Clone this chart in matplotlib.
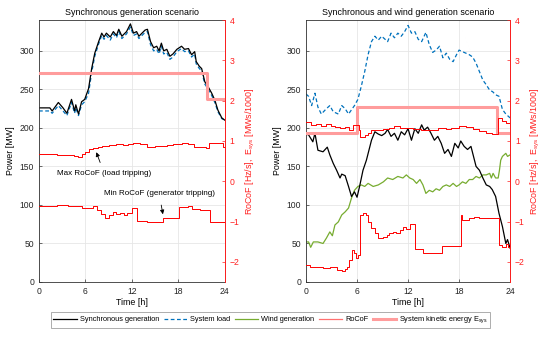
import matplotlib
matplotlib.use("Agg")
import matplotlib.pyplot as plt
from matplotlib.lines import Line2D

plt.rcParams['font.family'] = ['Liberation Sans', 'DejaVu Sans']
plt.rcParams['mathtext.default'] = 'regular'

# ---------------- Left panel: synchronous generation ----------------
t_sync_L = [0,1.4,1.7,2.5,3.1,3.6,4.2,4.6,4.75,5.1,5.5,5.9,6.4,6.8,7.2,7.7,8.1,8.4,8.7,9.2,
            9.6,10.0,10.3,10.7,11.3,11.8,12.2,12.6,12.9,13.2,13.7,14.0,14.4,14.8,15.2,15.5,15.8,16.1,16.5,16.9,
            17.3,17.8,18.4,18.8,19.3,19.7,20.1,20.3,20.7,21.0,21.4,21.8,22.3,22.7,23.1,23.6,24]
sync_L = [226,226,222,233,226,219,237,222,230,218,234,237,251,277,297,312,323,318,323,318,
          325,320,328,319,325,335,323,325,319,322,327,328,312,304,306,300,310,300,302,293,
          296,302,306,302,303,295,299,286,280,277,260,254,245,236,223,213,210]
load_L = [222,222,219,229,222,216,233,219,226,216,230,234,245,272,293,309,320,315,320,314,
          322,317,325,316,322,331,320,322,316,319,324,325,308,300,302,296,306,296,298,289,
          292,299,303,299,300,292,296,283,277,274,257,251,242,233,221,212,210]

t_rmax_L = [0,2.3,3.0,3.8,4.5,5.0,5.5,6.0,6.5,7.0,7.6,8.1,9.0,10.0,10.8,11.5,12.2,13.0,13.9,15.0,
            16.5,17.3,18.4,19.2,20.0,20.8,21.6,22.0,23.8,24]
rmax_L = [0.67,0.66,0.64,0.66,0.63,0.60,0.68,0.73,0.80,0.83,0.86,0.88,0.90,0.92,0.90,0.93,0.94,0.92,0.86,0.87,
          0.90,0.92,0.95,0.92,0.86,0.85,0.83,0.94,0.86,0.86]
t_rmin_L = [0,2.3,3.8,5.5,7.0,7.5,8.0,8.5,9.0,9.6,10.0,10.5,11.0,11.3,12.0,12.7,13.9,16.0,18.1,19.3,
            19.7,20.8,22.1,24]
rmin_L = [-0.61,-0.59,-0.61,-0.67,-0.62,-0.72,-0.82,-0.92,-0.85,-0.76,-0.81,-0.78,-0.83,-0.80,-0.67,-0.98,-1.02,-0.92,-0.64,-0.62,
          -0.70,-0.72,-1.02,-1.04]
t_ek_L = [0,21.7,24]
ek_L = [2.68,2.04,2.04]

# ---------------- Right panel: synchronous + wind ----------------
t_sync_R = [0,0.3,0.8,1.05,1.4,2.0,2.5,2.8,3.2,3.6,4.0,4.2,4.6,5.0,5.35,5.7,6.0,6.3,6.7,7.1,
            7.7,8.1,8.5,8.9,9.3,9.6,10.0,10.4,10.8,11.2,11.6,12.0,12.4,12.8,13.2,13.6,13.9,14.3,14.7,15.1,
            15.5,15.9,16.3,16.7,17.1,17.5,17.9,18.2,18.6,19.0,19.4,19.7,20.0,20.4,20.8,21.2,21.6,21.9,22.3,22.7,
            23.1,23.5,23.7,24]
sync_R = [192,191,182,193,171,169,175,165,154,145,135,140,138,124,111,117,110,124,145,158,
          184,195,192,190,193,198,189,193,184,195,191,199,184,199,193,204,197,201,193,184,
          189,180,167,172,163,180,174,183,176,172,176,163,150,145,135,126,124,120,111,89,
          72,50,55,44]
t_wind_R = [0,0.3,0.55,0.86,1.4,2.0,2.4,2.8,3.1,3.4,3.8,4.2,4.6,5.0,5.35,5.7,6.1,6.5,6.9,7.3,
            7.9,8.5,9.1,9.6,10.2,10.8,11.4,11.8,12.2,12.6,13.0,13.4,13.75,14.1,14.5,14.9,15.3,15.7,16.1,16.5,
            16.9,17.3,17.7,18.0,18.4,18.8,19.2,19.6,20.0,20.4,20.8,21.2,21.6,21.8,22.0,22.3,22.6,22.75,22.9,23.1,
            23.5,23.7,24]
wind_R = [52,52,45,52,52,50,57,65,60,74,78,87,91,96,109,119,124,126,124,128,
          124,126,130,135,133,137,135,139,135,133,128,133,126,115,119,117,121,119,124,126,
          124,128,124,126,130,128,133,133,137,135,139,139,141,135,141,135,135,145,158,163,
          167,163,165]
t_load_R = [0,0.3,0.66,1.05,1.4,1.8,2.4,2.8,3.2,3.8,4.2,4.6,5.0,5.7,6.1,6.5,6.9,7.3,7.7,8.1,
            8.5,8.9,9.3,9.6,10.0,10.4,10.8,11.2,11.6,12.0,12.4,12.8,13.2,13.6,14.1,14.5,14.9,15.3,15.7,16.1,
            16.5,16.9,17.3,17.7,18.0,18.4,18.8,19.2,19.6,20.0,20.4,20.8,21.2,21.6,21.95,22.3,22.7,23.1,23.5,23.9,24]
load_R = [244,241,229,245,227,218,225,229,221,218,229,225,218,229,237,254,273,295,312,319,
          314,319,315,312,323,317,323,319,325,333,323,325,315,312,324,308,298,301,306,291,
          297,289,286,295,301,299,297,295,292,284,273,262,256,249,247,243,241,224,218,214,213]
t_rmax_R = [0,0.6,1.2,1.8,2.4,2.9,3.4,4.0,4.6,5.1,5.5,6.2,6.4,6.9,7.3,7.7,8.3,9.0,9.8,10.4,
            11.0,12.0,12.6,13.5,14.5,15.5,16.5,17.1,18.0,18.8,19.6,20.4,21.2,21.9,22.6,23.0,23.5,24]
rmax_R = [1.48,1.40,1.43,1.38,1.41,1.37,1.34,1.32,1.35,1.27,1.39,1.27,1.10,1.15,1.20,1.26,1.28,1.30,1.31,1.37,
          1.32,1.33,1.29,1.27,1.28,1.31,1.29,1.32,1.37,1.34,1.30,1.24,1.20,1.17,1.56,1.50,1.45,1.44]
t_rmin_R = [0,0.5,1.0,2.0,2.8,3.6,4.2,4.6,4.85,5.1,5.35,5.6,5.9,6.1,6.4,6.7,7.1,7.3,7.7,8.1,
            8.5,9.1,9.5,9.8,10.2,10.6,11.0,11.4,11.8,12.2,12.8,13.75,16.0,18.2,18.4,19.2,19.8,20.4,21.2,22.6,
            22.7,23.1,23.5,23.8,24]
rmin_R = [-2.08,-2.12,-2.12,-2.16,-2.14,-2.2,-2.22,-2.18,-2.14,-1.96,-1.71,-1.79,-1.91,-1.83,-0.84,-0.80,-0.84,-1.0,-1.17,-1.29,
          -1.42,-1.38,-1.34,-1.29,-1.25,-1.29,-1.21,-1.13,-1.18,-1.05,-1.69,-1.77,-1.61,-0.84,-0.96,-0.92,-0.88,-0.92,-0.90,-0.92,
          -1.58,-1.62,-1.55,-1.62,-1.55]
t_ek_R = [0,6.05,22.5,24]
ek_R = [1.2,1.84,1.2,1.2]

titles = ["Synchronous generation scenario", "Synchronous and wind generation scenario"]
x_ticks = [0, 6, 12, 18, 24]
power_ticks = [0, 50, 100, 150, 200, 250, 300]
rocof_ticks = [-2, -1, 0, 1, 2, 3, 4]

C_BLACK = 'black'
C_BLUE = '#0072BD'
C_GREEN = '#77AC30'
C_RED = '#ff0000'
C_PINK = '#ff9c9c'
RED_AX = '#ff2020'
FS_TICK = 6.2
FS_LAB = 6.4

fig = plt.figure(figsize=(5.5, 3.38), dpi=100)
axL = fig.add_axes([0.0709, 0.1657, 0.338, 0.775])
axR = fig.add_axes([0.5564, 0.1657, 0.371, 0.775])

def setup(ax, title):
    ax.set_xlim(0, 24)
    ax.set_ylim(0, 340)
    ax.set_xticks(x_ticks)
    ax.set_yticks(power_ticks)
    ax.grid(True, color='#e6e6e6', linewidth=0.6)
    ax.set_axisbelow(True)
    ax.tick_params(direction='in', labelsize=FS_TICK, length=2.5, width=0.5,
                   color='#333333', labelcolor='#262626')
    ax.set_xlabel('Time [h]', fontsize=FS_LAB, labelpad=1.5)
    ax.set_ylabel('Power [MW]', fontsize=FS_LAB, labelpad=3)
    ax.set_title(title, fontsize=FS_LAB, pad=3.5)
    for s in ax.spines.values():
        s.set_linewidth(0.6)
        s.set_color('#333333')
    ax2 = ax.twinx()
    ax2.set_ylim(-2.5, 4)
    ax2.set_yticks(rocof_ticks)
    ax2.tick_params(direction='in', labelsize=FS_TICK, length=2.5, width=0.5, colors=RED_AX)
    ax2.spines['right'].set_color(RED_AX)
    ax2.spines['right'].set_linewidth(0.7)
    for k in ['left', 'top', 'bottom']:
        ax2.spines[k].set_visible(False)
    ax2.set_ylabel('RoCoF [Hz/s],  E$_{sys}$ [MWs/1000]', fontsize=FS_LAB, color=RED_AX, labelpad=3)
    return ax2

axL2 = setup(axL, titles[0])
axR2 = setup(axR, titles[1])

# Left panel
axL.plot(t_sync_L, load_L, color=C_BLUE, linestyle=(0, (3, 2)), linewidth=0.9)
axL.plot(t_sync_L, sync_L, color=C_BLACK, linewidth=0.9)
axL2.step(t_ek_L, ek_L, where='post', color=C_PINK, linewidth=2.2)
axL2.step(t_rmax_L, rmax_L, where='post', color=C_RED, linewidth=0.7)
axL2.step(t_rmin_L, rmin_L, where='post', color=C_RED, linewidth=0.7)

axL2.annotate('Max RoCoF (load tripping)', xy=(7.4, 0.72), xytext=(8.45, 0.18),
              fontsize=5.8, ha='center', va='center',
              arrowprops=dict(arrowstyle='-|>', color='black', lw=0.6, mutation_scale=6,
                              shrinkA=4, shrinkB=0))
axL2.annotate('Min RoCoF (generator tripping)', xy=(16.0, -0.82), xytext=(15.5, -0.30),
              fontsize=5.8, ha='center', va='center',
              arrowprops=dict(arrowstyle='-|>', color='black', lw=0.6, mutation_scale=6,
                              shrinkA=4, shrinkB=0))

# Right panel
axR.plot(t_load_R, load_R, color=C_BLUE, linestyle=(0, (3, 2)), linewidth=0.9)
axR.plot(t_wind_R, wind_R, color=C_GREEN, linewidth=0.9)
axR.plot(t_sync_R, sync_R, color=C_BLACK, linewidth=0.9)
axR2.step(t_ek_R, ek_R, where='post', color=C_PINK, linewidth=2.2)
axR2.step(t_rmax_R, rmax_R, where='post', color=C_RED, linewidth=0.7)
axR2.step(t_rmin_R, rmin_R, where='post', color=C_RED, linewidth=0.7)

handles = [Line2D([], [], color=C_BLACK, lw=0.9),
           Line2D([], [], color=C_BLUE, lw=0.9, linestyle=(0, (3, 2))),
           Line2D([], [], color=C_GREEN, lw=0.9),
           Line2D([], [], color='#ff7070', lw=0.9),
           Line2D([], [], color=C_PINK, lw=2.2)]
labels = ['Synchronous generation', 'System load', 'Wind generation', 'RoCoF',
          'System kinetic energy E$_{sys}$']
leg = fig.legend(handles, labels, loc='center', bbox_to_anchor=(0.492, 0.053), ncol=5,
                 fontsize=5.3, frameon=True, fancybox=False, handlelength=3.2,
                 handletextpad=0.4, columnspacing=0.6, borderpad=0.35)
leg.get_frame().set_edgecolor('#888888')
leg.get_frame().set_linewidth(0.6)

fig.savefig('out.png', dpi=100)
